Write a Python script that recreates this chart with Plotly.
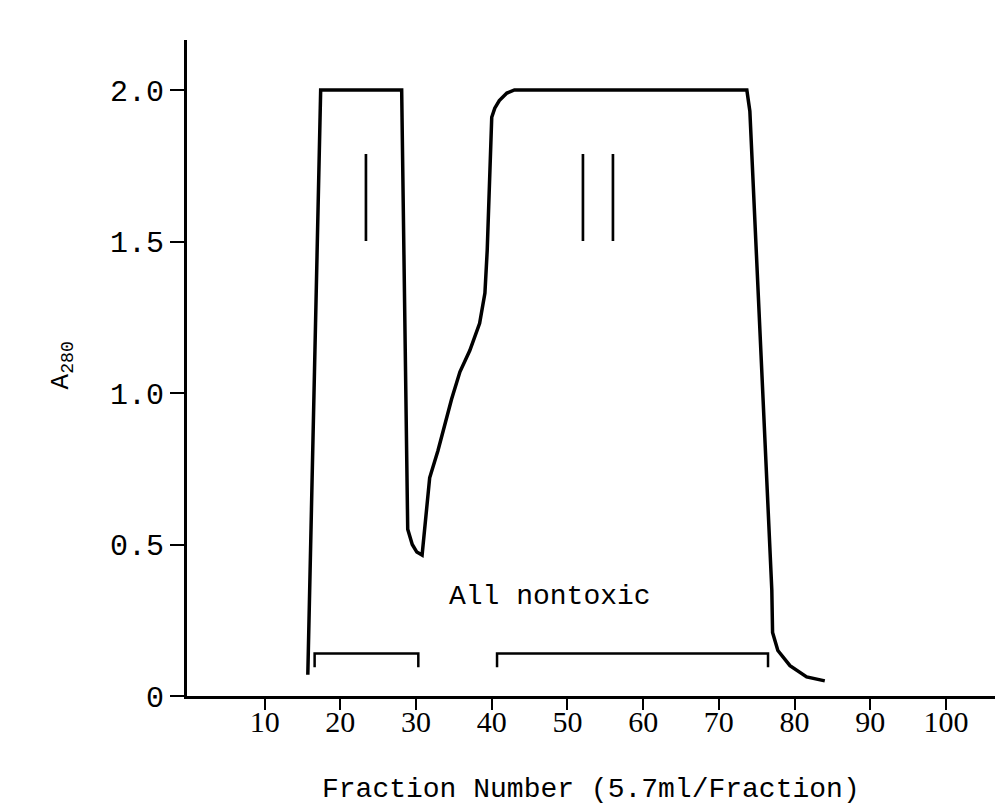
import plotly.graph_objects as go

# Elution profile: fraction number vs A280
fraction = [15.7, 17.4, 28.1, 28.9, 29.5, 30.1, 30.8, 31.4, 31.8, 32.9, 34.7, 35.8,
            37.1, 38.4, 39.1, 39.4, 39.9, 40.0, 40.4, 41.0, 42.0, 43.0, 44.1, 73.7,
            74.1, 74.4, 77.0, 77.1, 77.8, 79.4, 81.6, 84.0]
a280 = [0.07, 2.0, 2.0, 0.55, 0.50, 0.475, 0.465, 0.61, 0.72, 0.81, 0.98, 1.07,
        1.14, 1.23, 1.33, 1.47, 1.80, 1.91, 1.94, 1.965, 1.99, 2.0, 2.0, 2.0,
        1.93, 1.77, 0.35, 0.21, 0.15, 0.10, 0.063, 0.05]

# Toxicity-tested fraction ranges (bracketed) and their level
range_starts = [16.6, 40.7]
range_ends = [30.3, 76.5]
range_level = 0.14
range_tick_low = 0.095

# Peak labels
peak_names = ["I", "II"]
peak_x = [23.4, 54.0]
peak_y = [1.645, 1.645]

x_tickvals = [10, 20, 30, 40, 50, 60, 70, 80, 90, 100]
x_ticktext = ["10", "20", "30", "40", "50", "60", "70", "80", "90", "100"]
y_tickvals = [0, 0.5, 1.0, 1.5, 2.0]
y_ticktext = ["0", "0.5", "1.0", "1.5", "2.0"]

MONO = "Liberation Mono, Courier New, monospace"
SERIF = "Liberation Serif, Times New Roman, serif"

fig = go.Figure()

fig.add_trace(go.Scatter(x=fraction, y=a280, mode="lines",
                         line=dict(color="black", width=3.5),
                         hoverinfo="skip", showlegend=False))

for s, e in zip(range_starts, range_ends):
    fig.add_trace(go.Scatter(
        x=[s, s, e, e], y=[range_tick_low, range_level, range_level, range_tick_low],
        mode="lines", line=dict(color="black", width=2.5),
        hoverinfo="skip", showlegend=False))

for name, px, py in zip(peak_names, peak_x, peak_y):
    fig.add_annotation(x=px, y=py, xref="x", yref="y", text=name, showarrow=False,
                       font=dict(family="Inter", size=120, color="black", weight=100),
                       xanchor="center", yanchor="middle")

fig.add_annotation(x=47.7, y=0.33, xref="x", yref="y", text="All nontoxic",
                   showarrow=False, font=dict(family=MONO, size=28, color="black"),
                   xanchor="center", yanchor="middle")

fig.add_annotation(x=-0.152, y=1.09, xref="paper", yref="y", text="A<sub>280</sub>",
                   textangle=-90, showarrow=False,
                   font=dict(family=MONO, size=26, color="black"),
                   xanchor="center", yanchor="middle")

fig.add_annotation(x=0.490, y=-0.143, xref="paper", yref="paper",
                   text="Fraction Number (5.7ml/Fraction)", showarrow=False,
                   font=dict(family=MONO, size=28, color="black"),
                   xanchor="center", yanchor="middle")

fig.update_xaxes(range=[-0.26, 108.6], showgrid=False, zeroline=False,
                 showline=True, linecolor="black", linewidth=3,
                 ticks="outside", ticklen=11, tickwidth=2, tickcolor="black",
                 tickvals=x_tickvals, ticktext=x_ticktext, ticklabelstandoff=-14,
                 tickfont=dict(family=SERIF, size=30, color="black"))
fig.update_yaxes(range=[0, 2.165], showgrid=False, zeroline=False,
                 showline=True, linecolor="black", linewidth=3,
                 ticks="outside", ticklen=14, tickwidth=1.5, tickcolor="black",
                 tickvals=y_tickvals, ticktext=y_ticktext, ticklabelstandoff=0,
                 tickfont=dict(family=MONO, size=30, color="black"))

fig.update_layout(width=1003, height=805, paper_bgcolor="white", plot_bgcolor="white",
                  margin=dict(l=179, r=0, t=32, b=117), showlegend=False)

fig.write_html("out.html")
